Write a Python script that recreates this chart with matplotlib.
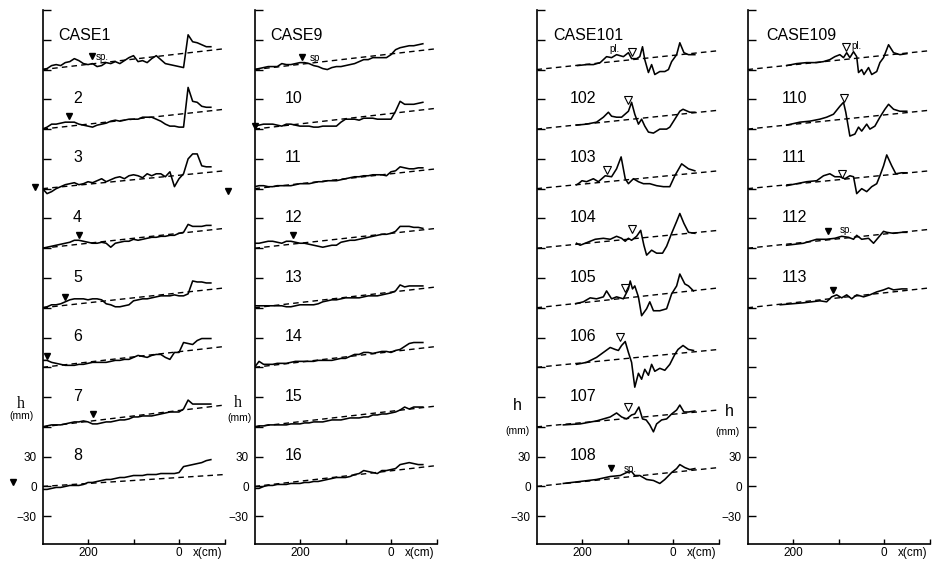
import numpy as np
import matplotlib.pyplot as plt

plt.rcParams['font.family'] = ['Liberation Sans', 'DejaVu Sans']

W, H = 935, 563          # output size in pixels
OFFSET = 60              # mm between stacked profiles
DASH_X = [300, -100]     # reference (dashed) line runs across the whole flume

# ---------------- data ----------------
# CASE1-16: bed height (mm) above the profile start, sampled every 10 cm
X_GRID = np.arange(300, -71, -10)

H1 = [0, 1, 4, 5, 4, 7, 8, 11, 9, 6, 5, 6, 3, 4, 7, 6, 8, 6, 9, 12,
      14, 8, 9, 7, 11, 14, 10, 6, 5, 4, 3, 2, 35, 28, 27, 25, 23, 23]
H2 = [0, 2, 5, 5, 6, 7, 7, 7, 5, 4, 3, 2, 4, 5, 6, 8, 9, 8, 9, 10,
      10, 10, 12, 12, 12, 10, 8, 5, 3, 3, 2, 2, 42, 28, 27, 23, 22, 22]
H3 = [0, -5, -3, 0, 2, 4, 5, 6, 4, 5, 7, 6, 8, 10, 7, 9, 11, 12, 10, 13,
      14, 13, 11, 15, 13, 15, 15, 12, 17, 2, 10, 15, 30, 35, 35, 23, 22, 22]
H4 = [0, 1, 2, 3, 4, 5, 6, 8, 8, 7, 6, 5, 5, 6, 5, 1, 5, 6, 7, 7,
      9, 8, 9, 10, 11, 11, 12, 12, 13, 13, 15, 16, 24, 22, 22, 22, 23, 23]
H5 = [0, 1, 3, 3, 4, 6, 8, 9, 9, 9, 8, 9, 9, 8, 4, 3, 1, 1, 2, 3,
      7, 8, 9, 9, 10, 11, 12, 12, 12, 13, 12, 12, 14, 27, 26, 26, 25, 25]
H6 = [7, 7, 5, 4, 3, 2, 2, 2, 3, 3, 4, 5, 5, 5, 5, 6, 7, 7, 8, 8,
      10, 12, 11, 10, 12, 13, 13, 10, 8, 15, 15, 25, 24, 23, 27, 29, 29, 29]
H7 = [0, 1, 2, 2, 2, 3, 4, 5, 5, 6, 5, 3, 3, 4, 5, 5, 6, 7, 7, 8,
      10, 10, 11, 11, 11, 12, 13, 14, 15, 15, 15, 18, 27, 23, 23, 23, 23, 23]
H8 = [-3, -3, -2, -1, -1, 0, 1, 1, 1, 2, 4, 4, 5, 6, 7, 7, 8, 9, 9, 10,
      11, 11, 11, 12, 12, 12, 13, 13, 13, 13, 14, 20, 21, 22, 23, 24, 26, 27]
H9 = [0, 1, 2, 3, 3, 3, 6, 5, 5, 6, 7, 7, 6, 4, 3, 1, 0, 2, 3, 3,
      4, 5, 6, 8, 10, 10, 12, 12, 12, 12, 15, 20, 22, 23, 24, 24, 25, 26]
H10 = [3, 4, 5, 5, 5, 4, 3, 5, 5, 4, 3, 3, 3, 2, 2, 3, 3, 3, 3, 7,
       10, 10, 10, 9, 11, 11, 11, 10, 10, 10, 10, 18, 28, 25, 25, 25, 26, 27]
H11 = [2, 3, 3, 2, 2, 3, 3, 3, 3, 4, 5, 5, 5, 6, 7, 7, 8, 8, 8, 9,
       10, 11, 12, 12, 13, 13, 14, 14, 14, 13, 17, 18, 22, 21, 20, 20, 21, 21]
H12 = [5, 5, 6, 7, 7, 6, 5, 7, 7, 6, 5, 5, 4, 3, 2, 1, 2, 3, 3, 6,
       7, 8, 8, 9, 10, 11, 12, 13, 14, 14, 15, 17, 22, 22, 22, 21, 21, 20]
H13 = [2, 2, 2, 2, 2, 2, 2, 1, 1, 2, 3, 3, 3, 3, 4, 6, 7, 8, 8, 9,
       10, 10, 10, 10, 11, 12, 12, 12, 13, 14, 15, 17, 23, 21, 22, 22, 22, 22]
H14 = [0, 6, 3, 3, 3, 4, 4, 4, 5, 6, 6, 6, 6, 6, 7, 7, 7, 7, 8, 9,
       9, 11, 13, 13, 15, 15, 14, 15, 16, 16, 15, 17, 18, 21, 24, 25, 25, 25]
H15 = [0, 1, 1, 2, 2, 2, 2, 2, 3, 3, 3, 4, 4, 5, 5, 5, 6, 7, 7, 7,
       8, 9, 9, 9, 10, 10, 12, 12, 13, 13, 14, 15, 17, 20, 18, 20, 20, 20]
H16 = [-2, -2, 0, 1, 1, 2, 2, 2, 3, 3, 3, 4, 4, 5, 5, 6, 7, 8, 9, 9,
       9, 10, 12, 13, 16, 15, 14, 13, 16, 16, 17, 18, 22, 23, 24, 23, 22, 22]

# CASE101-113: (x cm, h mm) vertices of the measured bed
X101 = [210, 190, 175, 160, 153, 146, 135, 124, 109, 98, 91, 80, 73, 67, 62, 54, 47, 40, 29, 18, 10, 3, -8, -15, -24, -34, -48]
H101 = [4, 5, 5, 7, 10, 13, 12, 15, 13, 17, 11, 11, 13, 23, 10, -3, 5, -5, -2, -2, 0, 8, 15, 27, 17, 15, 15]
X102 = [212, 190, 168, 153, 142, 135, 124, 113, 98, 91, 84, 76, 69, 62, 54, 43, 29, 14, 7, -4, -15, -22, -37, -48]
H102 = [4, 5, 7, 12, 17, 13, 12, 12, 18, 27, 15, 5, 10, 3, -3, -4, 0, 0, 2, 10, 18, 20, 17, 17]
X103 = [212, 208, 200, 190, 175, 164, 149, 135, 124, 114, 105, 98, 87, 76, 65, 51, 36, 21, 7, -4, -19, -34, -48]
H103 = [4, 5, 8, 7, 10, 7, 13, 12, 20, 32, 10, 5, 10, 7, 5, 5, 3, 2, 2, 13, 25, 20, 18]
X104 = [212, 204, 182, 171, 153, 138, 124, 113, 105, 98, 91, 80, 71, 64, 58, 47, 36, 23, 14, 3, -8, -15, -24, -34, -48]
H104 = [5, 3, 7, 9, 10, 9, 12, 10, 7, 10, 8, 12, 18, 3, -7, -2, -5, -5, 2, 15, 27, 35, 25, 16, 15]
X105 = [214, 197, 182, 168, 153, 146, 135, 124, 109, 98, 94, 89, 84, 76, 69, 58, 51, 43, 29, 14, 3, -8, -15, -26, -34, -45]
H105 = [4, 6, 10, 9, 11, 17, 9, 11, 9, 19, 27, 19, 22, 11, -8, -1, 6, -3, -3, -1, 14, 22, 34, 24, 22, 17]
X106 = [212, 190, 168, 153, 138, 127, 120, 113, 105, 98, 91, 84, 76, 69, 62, 54, 47, 40, 29, 18, 7, -4, -11, -22, -34, -45]
H106 = [3, 5, 10, 15, 20, 18, 17, 22, 26, 15, 5, -20, -6, -12, -2, -8, 3, -4, -1, -3, 3, 13, 18, 22, 18, 17]
X107 = [241, 204, 168, 138, 124, 113, 102, 91, 84, 75, 67, 59, 51, 43, 36, 25, 14, 3, -8, -15, -24, -34, -48]
H107 = [2, 3, 6, 10, 14, 10, 8, 12, 13, 20, 8, 7, 2, -5, 3, 7, 8, 13, 17, 22, 15, 15, 16]
X108 = [241, 204, 168, 138, 116, 102, 91, 84, 73, 58, 43, 29, 18, 3, -8, -15, -26, -37, -48]
H108 = [3, 5, 7, 10, 11, 14, 15, 11, 11, 7, 6, 3, 7, 14, 18, 22, 19, 17, 18]
X109 = [214, 192, 170, 148, 133, 119, 108, 97, 89, 82, 75, 67, 60, 56, 49, 44, 34, 27, 16, 9, 1, -10, -21, -35, -50]
H109 = [4, 6, 7, 7, 8, 10, 13, 15, 12, 17, 12, 18, 13, -3, 0, -5, 2, -5, -2, 7, 12, 25, 17, 15, 16]
X110 = [214, 185, 163, 141, 126, 111, 97, 89, 84, 75, 64, 56, 49, 38, 31, 20, 9, -2, -10, -21, -35, -50]
H110 = [4, 7, 8, 10, 12, 15, 23, 27, 17, -7, -5, 2, -2, 5, 0, 3, 12, 20, 25, 20, 18, 18]
X111 = [214, 170, 148, 133, 119, 108, 97, 86, 75, 67, 60, 49, 38, 27, 16, 9, 1, -6, -17, -26, -39, -50]
H111 = [3, 7, 8, 13, 15, 12, 12, 10, 13, 12, -5, 0, -3, 2, 5, 13, 23, 34, 23, 15, 16, 16]
X112 = [214, 177, 148, 126, 108, 93, 78, 67, 60, 49, 34, 23, 12, 1, -6, -21, -39, -50]
H112 = [3, 5, 9, 9, 10, 12, 11, 9, 13, 9, 10, 5, 11, 17, 16, 15, 16, 16]
X113 = [228, 177, 141, 126, 115, 104, 93, 82, 71, 60, 45, 31, 16, 1, -10, -21, -39, -50]
H113 = [3, 5, 7, 6, 11, 13, 10, 13, 9, 13, 11, 13, 16, 18, 20, 18, 19, 19]

# rise (mm) of the dashed reference line over the flume
RISE_A = [21, 20, 18, 20, 20, 21, 22, 12]
RISE_B = [21, 21, 20, 20, 21, 21, 21, 21]
RISE_C = [19, 19, 18, 18, 20, 18, 17, 19]
RISE_D = [19, 19, 18, 19, 20]

# filled markers (sp.) and open markers (pl.)
SP_CASE = [1, 2, 4, 5, 6, 7, 9, 10, 12, 108, 112, 113]
SP_X = [192, 241, 220, 250, 291, 190, 195, 300, 215, 137, 122, 113]
SP_H = [14, 13, 13, 11, 11, 13, 13, 3, 13, 19, 17, 18]
PL_CASE = [101, 102, 103, 104, 105, 106, 107, 109, 110, 111]
PL_X = [91, 98, 146, 91, 105, 116, 98, 83, 89, 93]
PL_H = [18, 29, 19, 19, 20, 31, 20, 23, 31, 15]
NOTE_CASE = [1, 9, 108, 112, 101, 109]
NOTE_TEXT = ['sp.', 'sp', 'sp.', 'sp.', 'pl.', 'pl.']
NOTE_X = [182, 178, 109, 98, 140, 71]
NOTE_H = [13, 12, 18, 18, 21, 24]
# still-water markers drawn outside the first panel (absolute h)
OUT_X = [316, -108, 365]
OUT_H = [302, 298, 4]

PANELS = [
    {'cases': list(range(1, 9)), 'rise': RISE_A, 'left': 42.5, 'case_x': 265, 'num_x': 233,
     'h_px': (21, 404), 'mm_px': (21, 416), 'h_font': 'Liberation Serif'},
    {'cases': list(range(9, 17)), 'rise': RISE_B, 'left': 254.5, 'case_x': 265, 'num_x': 233,
     'h_px': (238, 403), 'mm_px': (239, 418), 'h_font': 'Liberation Serif'},
    {'cases': list(range(101, 109)), 'rise': RISE_C, 'left': 536.5, 'case_x': 264, 'num_x': 226,
     'h_px': (517, 406), 'mm_px': (517, 431), 'h_font': 'Liberation Sans'},
    {'cases': list(range(109, 114)), 'rise': RISE_D, 'left': 747.5, 'case_x': 258, 'num_x': 224,
     'h_px': (729, 411), 'mm_px': (728, 432), 'h_font': 'Liberation Sans'},
]

LOW = {1: H1, 2: H2, 3: H3, 4: H4, 5: H5, 6: H6, 7: H7, 8: H8,
       9: H9, 10: H10, 11: H11, 12: H12, 13: H13, 14: H14, 15: H15, 16: H16}
HIGH = {101: (X101, H101), 102: (X102, H102), 103: (X103, H103), 104: (X104, H104),
        105: (X105, H105), 106: (X106, H106), 107: (X107, H107), 108: (X108, H108),
        109: (X109, H109), 110: (X110, H110), 111: (X111, H111), 112: (X112, H112),
        113: (X113, H113)}

fig = plt.figure(figsize=(W / 100, H / 100), dpi=100)

base_of = {}
for p in PANELS:
    ax = fig.add_axes([p['left'] / W, 19 / H, 182 / W, 534 / H])
    p['ax'] = ax
    ax.set_xlim(300, -100)
    ax.set_ylim(-58, 480)
    for s in ['top', 'right']:
        ax.spines[s].set_visible(False)
    for s in ['left', 'bottom']:
        ax.spines[s].set_linewidth(1.2)

    ax.set_xticks([200, 100, 0, -100], ['200', '', '0', ''])
    ax.set_xticks([0], minor=True)
    ax.tick_params(axis='x', which='major', direction='in', length=3.5, width=1, pad=2.5, labelsize=8.5)
    ax.tick_params(axis='x', which='minor', direction='in', length=11, width=1)
    yt = list(range(-30, 451, 30)) + [480]
    ax.set_yticks(yt, ['\u221230', '0', '30'] + [''] * (len(yt) - 3))
    ax.tick_params(axis='y', direction='in', length=6, width=1, pad=4, labelsize=8.5)
    ax.text(0.91, -0.006, 'x(cm)', transform=ax.transAxes, ha='center', va='top', fontsize=8.5)

    fig.text(p['h_px'][0] / W, 1 - p['h_px'][1] / H, 'h', ha='center', va='center',
             fontsize=11.5, family=p['h_font'])
    fig.text(p['mm_px'][0] / W, 1 - p['mm_px'][1] / H, '(mm)', ha='center', va='center', fontsize=7.5)

    for k, (case, rise) in enumerate(zip(p['cases'], p['rise'])):
        base = OFFSET * (7 - k)
        base_of[case] = (ax, base)
        if case in LOW:
            xs, hs = X_GRID, np.array(LOW[case])
        else:
            xs, hs = np.array(HIGH[case][0]), np.array(HIGH[case][1])
        ax.plot(xs, base + hs, color='k', lw=1.15, solid_joinstyle='round')
        ax.plot(DASH_X, [base, base + rise], color='k', lw=1.0, dashes=(4, 3))
        label = 'CASE%d' % case if k == 0 else str(case)
        lx = p['case_x'] if k == 0 else p['num_x']
        ax.text(lx, base + (34 if k == 0 else 31), label, fontsize=11.5, va='center', ha='left')

for case, x, h in zip(SP_CASE, SP_X, SP_H):
    ax, base = base_of[case]
    ax.plot(x, base + h, marker='v', ms=5, color='k', ls='none', clip_on=False)
for case, x, h in zip(PL_CASE, PL_X, PL_H):
    ax, base = base_of[case]
    ax.plot(x, base + h, marker='v', ms=6, mfc='white', mec='k', mew=0.8, ls='none')
for case, t, x, h in zip(NOTE_CASE, NOTE_TEXT, NOTE_X, NOTE_H):
    ax, base = base_of[case]
    ax.text(x, base + h, t, fontsize=7, ha='left', va='center')

ax0 = PANELS[0]['ax']
ax0.plot(OUT_X, OUT_H, marker='v', ms=5, color='k', ls='none', clip_on=False)

fig.savefig('out.png', dpi=100)
